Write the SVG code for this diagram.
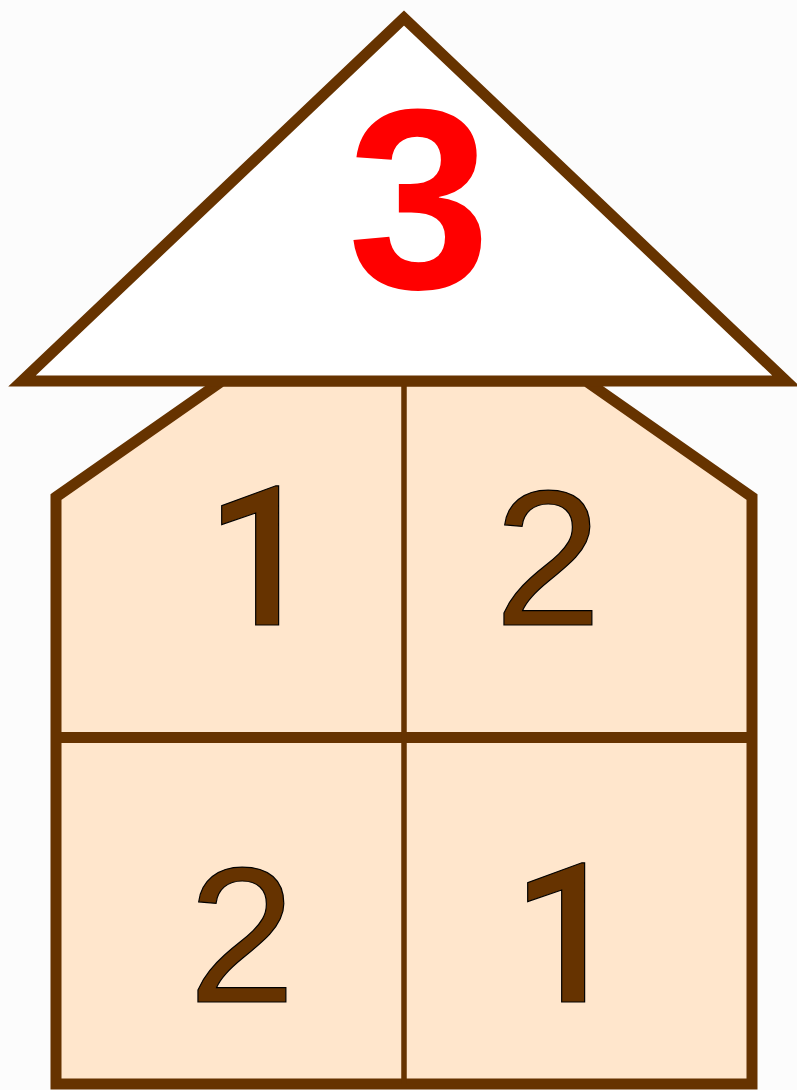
<svg xmlns="http://www.w3.org/2000/svg" width="797" height="1090" viewBox="0 0 797 1090">
<style>
.br{stroke:#663300;stroke-linejoin:miter;stroke-miterlimit:10}
.num{font-family:"Liberation Sans",Arial,sans-serif;font-size:193px;fill:#663300;stroke:#000;stroke-width:1.2;text-anchor:middle}
.one{font-family:Roboto,"Liberation Sans",sans-serif;font-weight:500;font-size:195px;fill:#663300;stroke:#000;stroke-width:1.2;text-anchor:middle}
.top{font-family:"Liberation Sans",Arial,sans-serif;font-weight:bold;font-size:257px;fill:#ff0000;text-anchor:middle}
</style>
<rect width="797" height="1090" fill="#fcfcfc"/>
<g id="body">
<polygon class="br" points="56,497 222,381 586,381 752,497 752,1084 56,1084" fill="#ffe6cc" stroke-width="11"/>
</g>
<g id="lines">
<line class="br" x1="56" y1="737.5" x2="752" y2="737.5" stroke-width="11"/>
<line class="br" x1="404" y1="381" x2="404" y2="1084" stroke-width="5.5"/>
</g>
<g id="roof">
<polygon class="br" points="404,18 22,381 786,381" fill="#ffffff" stroke-width="11"/>
<text class="top" x="419" y="288">3</text>
</g>
<g id="cell-tl"><text class="one" x="261" y="625">1</text></g>
<g id="cell-tr"><text class="num" x="548" y="625">2</text></g>
<g id="cell-bl"><text class="num" x="242" y="1002">2</text></g>
<g id="cell-br"><text class="one" x="567" y="1002">1</text></g>
</svg>
